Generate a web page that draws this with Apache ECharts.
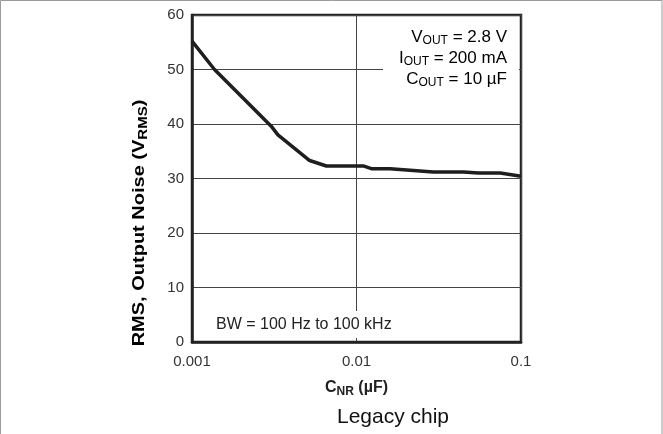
<!DOCTYPE html>
<html>
<head>
<meta charset="utf-8">
<script src="https://cdn.jsdelivr.net/npm/echarts@6/dist/echarts.min.js"></script>
<style>
html,body{margin:0;padding:0;background:#fff;}
#chart{width:663px;height:434px;}
</style>
</head>
<body>
<div id="chart"></div>
<script>
// ---- data ----
var cnrValues = [0.001, 0.00137, 0.00303, 0.00333, 0.00519, 0.00656, 0.011, 0.0123, 0.016, 0.0293, 0.0447, 0.055, 0.0748, 0.1];
var noiseValues = [55.2, 50.0, 39.6, 38.0, 33.3, 32.3, 32.3, 31.8, 31.8, 31.2, 31.2, 31.0, 31.0, 30.4];
var xTickLabels = ['0.001', '0.01', '0.1'];
var yTickLabels = ['0', '10', '20', '30', '40', '50', '60'];
var conditionLines = ['V{sub|OUT} = 2.8 V', 'I{sub|OUT} = 200 mA', 'C{sub|OUT} = 10 \u00B5F'];
var bandwidthNote = 'BW = 100 Hz to 100 kHz';
var xTitle = 'C{sub|NR} (\u00B5F)';
var yTitle = 'RMS, Output Noise (V{sub|RMS})';
var caption = 'Legacy chip';

var seriesData = cnrValues.map(function (c, i) { return [c, noiseValues[i]]; });

var FONT = '"Liberation Sans", Arial, Helvetica, sans-serif';
var chart = echarts.init(document.getElementById('chart'), null, {renderer: 'canvas'});

function subRich(size, bold) {
  return {
    main: {fontSize: size, fontFamily: FONT, fontWeight: bold ? 'bold' : 'normal', color: '#222', lineHeight: 20, verticalAlign: 'middle'},
    sub: {fontSize: Math.round(size * 0.72), fontFamily: FONT, fontWeight: bold ? 'bold' : 'normal', color: '#222', lineHeight: 11, verticalAlign: 'bottom'}
  };
}
function toRich(s) {
  var parts = s.split(/(\{sub\|[^}]*\})/);
  return parts.filter(function (p) { return p.length; }).map(function (p) {
    if (p.indexOf('{sub|') === 0) return p;
    return '{main|' + p + '}';
  }).join('');
}

var graphics = [
  // outer frame of the picture
  {type: 'rect', z: 0, silent: true, shape: {x: 0.5, y: 0.5, width: 661.5, height: 460},
   style: {fill: null, stroke: '#9a9a9a', lineWidth: 1}},
  // white box behind conditions
  {type: 'rect', z: 50, silent: true, shape: {x: 383, y: 22, width: 136, height: 68},
   style: {fill: '#fff', stroke: null}},
  // white box behind BW note
  {type: 'rect', z: 50, silent: true, shape: {x: 206, y: 311, width: 200, height: 27},
   style: {fill: '#fff', stroke: null}},
  {type: 'text', z: 60, silent: true, x: 216, y: 325,
   style: {text: bandwidthNote, font: '16px ' + FONT, fill: '#222', textAlign: 'left', textVerticalAlign: 'middle'}},
  {type: 'text', z: 60, silent: true, x: 140, y: 223, rotation: Math.PI / 2, scaleX: 1.25,
   style: {text: toRich(yTitle), rich: subRich(16, true), textAlign: 'center', textVerticalAlign: 'middle'}},
  {type: 'text', z: 60, silent: true, x: 393, y: 417,
   style: {text: caption, font: '21px ' + FONT, fill: '#111', textAlign: 'center', textVerticalAlign: 'middle'}}
];
var lineYs = [37, 58, 79];
conditionLines.forEach(function (t, i) {
  graphics.push({type: 'text', z: 60, silent: true, x: 507, y: lineYs[i],
    style: {text: toRich(t), rich: subRich(17, false), textAlign: 'right', textVerticalAlign: 'middle'}});
});

var option = {
  animation: false,
  backgroundColor: '#fff',
  grid: {left: 192, top: 15, right: 142, bottom: 92, containLabel: false,
         show: true, borderColor: '#222', borderWidth: 2.5, backgroundColor: 'transparent'},
  xAxis: {
    type: 'log', logBase: 10, min: 0.001, max: 0.1,
    name: toRich(xTitle), nameLocation: 'middle', nameGap: 36,
    nameTextStyle: {rich: subRich(16, true)},
    axisLine: {show: true, lineStyle: {color: '#222', width: 2.5}},
    axisTick: {show: false},
    minorTick: {show: false},
    splitLine: {show: true, lineStyle: {color: '#444', width: 1}},
    axisLabel: {
      margin: 12, fontSize: 15, fontFamily: FONT, color: '#333',
      formatter: function (v) {
        var idx = Math.round(Math.log10(v) + 3);
        return xTickLabels[idx] !== undefined ? xTickLabels[idx] : '';
      }
    }
  },
  yAxis: {
    type: 'value', min: 0, max: 60, interval: 10,
    axisLine: {show: true, lineStyle: {color: '#222', width: 2.5}},
    axisTick: {show: false},
    splitLine: {show: true, lineStyle: {color: '#444', width: 1}},
    axisLabel: {
      margin: 8, fontSize: 15, fontFamily: FONT, color: '#333',
      formatter: function (v) { return yTickLabels[Math.round(v / 10)]; }
    }
  },
  graphic: graphics,
  series: [{
    type: 'line', data: seriesData, showSymbol: false, symbol: 'none', smooth: false,
    lineStyle: {color: '#1e1e1e', width: 3.5}, z: 10, clip: true
  }]
};
chart.setOption(option);
</script>
</body>
</html>
